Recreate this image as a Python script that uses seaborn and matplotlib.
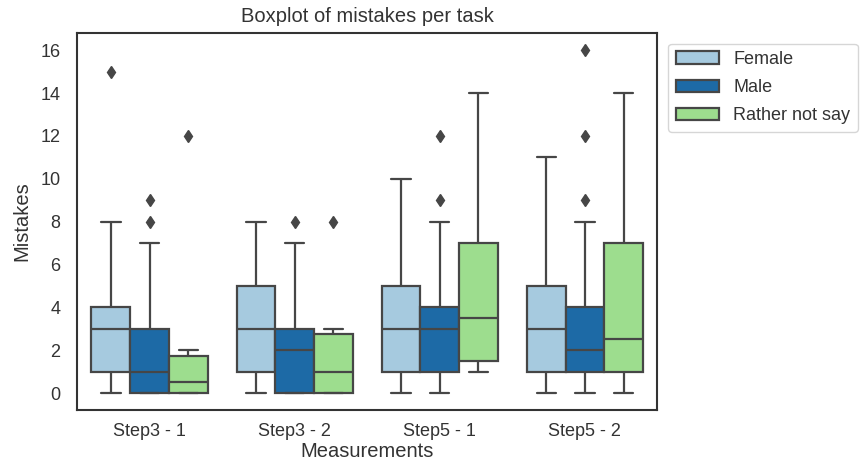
import matplotlib
matplotlib.use("Agg")
import matplotlib.pyplot as plt
import seaborn as sns
import pandas as pd

# ---- data (mistakes per participant, read from the box statistics) ----
measurements = ["Step3 - 1", "Step3 - 2", "Step5 - 1", "Step5 - 2"]
genders = ["Female", "Male", "Rather not say"]

female_s3_1 = [0, 1, 1, 1, 2, 3, 3, 3, 4, 4, 6, 8, 15]
male_s3_1 = [0, 0, 0, 0, 1, 1, 1, 2, 2, 3, 7, 8, 9]
rns_s3_1 = [0, 0, 0, 1, 2, 12]

female_s3_2 = [0, 1, 1, 1, 2, 3, 3, 4, 5, 5, 6, 7, 8]
male_s3_2 = [0, 0, 0, 0, 1, 2, 2, 2, 3, 3, 5, 7, 8]
rns_s3_2 = [0, 0, 0, 2, 3, 8]

female_s5_1 = [0, 1, 1, 1, 2, 3, 3, 4, 5, 5, 7, 8, 10]
male_s5_1 = [0, 1, 1, 1, 2, 3, 3, 3, 4, 4, 8, 9, 12]
rns_s5_1 = [1, 1, 3, 4, 8, 14]

female_s5_2 = [0, 1, 1, 1, 2, 3, 3, 4, 5, 5, 7, 9, 11]
male_s5_2 = [0, 1, 1, 1, 1, 2, 2, 2, 2, 3, 3, 4, 4, 8, 9, 12, 16]
rns_s5_2 = [0, 1, 1, 4, 8, 14]

groups = {
    ("Step3 - 1", "Female"): female_s3_1,
    ("Step3 - 1", "Male"): male_s3_1,
    ("Step3 - 1", "Rather not say"): rns_s3_1,
    ("Step3 - 2", "Female"): female_s3_2,
    ("Step3 - 2", "Male"): male_s3_2,
    ("Step3 - 2", "Rather not say"): rns_s3_2,
    ("Step5 - 1", "Female"): female_s5_1,
    ("Step5 - 1", "Male"): male_s5_1,
    ("Step5 - 1", "Rather not say"): rns_s5_1,
    ("Step5 - 2", "Female"): female_s5_2,
    ("Step5 - 2", "Male"): male_s5_2,
    ("Step5 - 2", "Rather not say"): rns_s5_2,
}

rows = []
for (m, g), vals in groups.items():
    for v in vals:
        rows.append({"Measurements": m, "Gender": g, "Mistakes": v})
df = pd.DataFrame(rows)

colors = ["#a6cadf", "#1d6aa6", "#9ddd8e"]
line_col = "#464646"
text_col = "#333333"

sns.set_theme(style="white")
plt.rcParams["font.family"] = ["Liberation Sans", "DejaVu Sans"]

fig = plt.figure(figsize=(8.6, 4.72), dpi=100)
ax = fig.add_axes([0.0895, 0.131, 0.675, 0.799])

sns.boxplot(
    data=df, x="Measurements", y="Mistakes", hue="Gender",
    order=measurements, hue_order=genders, palette=colors,
    saturation=1, width=0.8, linewidth=1.6, linecolor=line_col,
    flierprops=dict(marker="d", markerfacecolor=line_col,
                    markeredgecolor=line_col, markersize=6),
    ax=ax,
)

ax.set_ylim(-0.8, 16.8)
ax.set_yticks(range(0, 17, 2))
ax.tick_params(axis="both", labelsize=13, colors=text_col, length=0)
ax.tick_params(axis="y", pad=12)
ax.tick_params(axis="x", pad=9)
ax.set_xlabel("Measurements", fontsize=14.5, color=text_col, labelpad=2)
ax.set_ylabel("Mistakes", fontsize=14.5, color=text_col, labelpad=6)
ax.set_title("Boxplot of mistakes per task", fontsize=14.5, color=text_col, pad=8)
for s in ax.spines.values():
    s.set_color("#333333")
    s.set_linewidth(1.5)

leg = ax.legend(loc="upper left", bbox_to_anchor=(1.0, 1.0), fontsize=13,
                frameon=True, handlelength=2.4, handleheight=0.7,
                labelspacing=0.62, borderaxespad=0.6)
leg.get_frame().set_edgecolor("#cccccc")
for t in leg.get_texts():
    t.set_color(text_col)

fig.savefig("out.png", dpi=100)
